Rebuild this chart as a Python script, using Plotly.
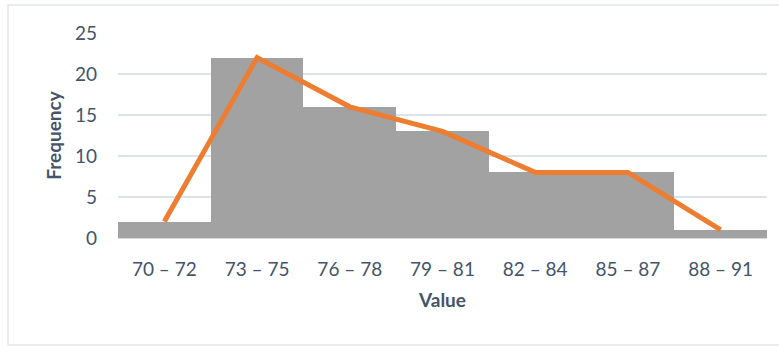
import plotly.graph_objects as go

categories = ["70 – 72", "73 – 75", "76 – 78", "79 – 81", "82 – 84", "85 – 87", "88 – 91"]
frequency = [2, 22, 16, 13, 8, 8, 1]
y_ticks = [0, 5, 10, 15, 20, 25]

text_color = "#44546A"
font_family = "Lato, 'Open Sans', sans-serif"

fig = go.Figure()
fig.add_trace(go.Bar(
    x=categories, y=frequency,
    marker=dict(color="#a2a2a2", line=dict(width=0)),
    showlegend=False, hoverinfo="skip",
))
fig.add_trace(go.Scatter(
    x=categories, y=frequency, mode="lines",
    line=dict(color="#ED7D31", width=5),
    showlegend=False, hoverinfo="skip",
))

fig.update_layout(
    width=779, height=346,
    margin=dict(l=118, r=12, t=33, b=108),
    paper_bgcolor="white", plot_bgcolor="white",
    bargap=0,
    font=dict(family=font_family, color=text_color, size=19),
    xaxis=dict(
        type="category", showgrid=False, zeroline=False,
        showline=True, linecolor="#d9d9d9", linewidth=1,
        ticks="", ticklabelstandoff=14,
        tickfont=dict(size=19, color=text_color),
        title=dict(text="<b>Value</b>", font=dict(size=19, color=text_color), standoff=14),
    ),
    yaxis=dict(
        range=[0, 25], tickvals=y_ticks, showgrid=True, gridcolor="#dde3ea", gridwidth=1.5,
        zeroline=False, showline=False, ticks="", ticklabelstandoff=20,
        tickfont=dict(size=19, color=text_color),
        title=dict(text="<b>Frequency</b>", font=dict(size=19, color=text_color), standoff=8),
    ),
    shapes=[dict(
        type="rect", xref="paper", yref="paper",
        x0=(8 - 118) / 649, x1=1.05, y0=(238 - 345) / 205, y1=(238 - 5) / 205,
        line=dict(color="#e3e7ec", width=1.5), fillcolor="rgba(0,0,0,0)", layer="below",
    )],
)

fig.write_html("out.html")
